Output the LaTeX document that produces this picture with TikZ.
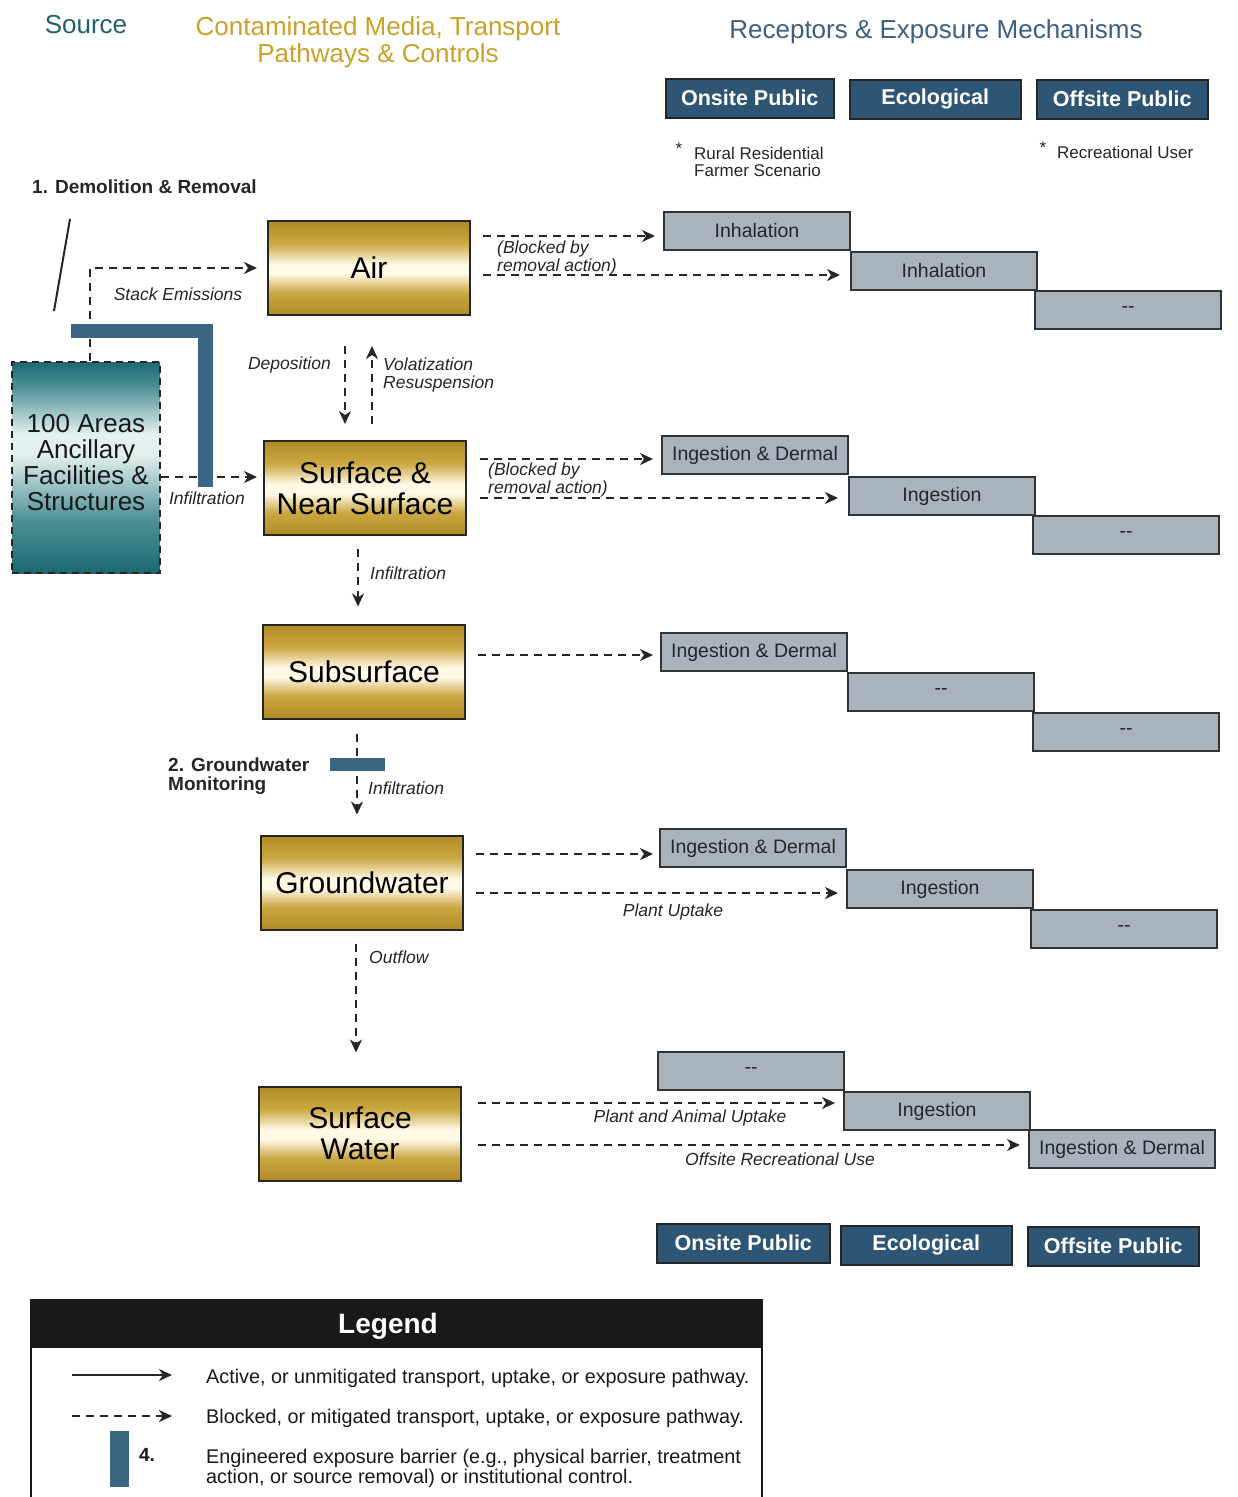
\documentclass[tikz,border=0pt]{standalone}
\usepackage{fontspec}
\setmainfont{Liberation Sans}
\usetikzlibrary{arrows.meta,calc}
\definecolor{hdrblue}{HTML}{2F5574}
\definecolor{barblue}{HTML}{3C6483}
\definecolor{recgray}{HTML}{A9B3BD}
\definecolor{golddk}{HTML}{B08A26}
\definecolor{goldmd}{HTML}{CCA843}
\definecolor{goldlt}{HTML}{FFF9E6}
\definecolor{tealdk}{HTML}{1C6870}
\definecolor{tealmd}{HTML}{4F9298}
\definecolor{teallt}{HTML}{E2F0EE}
\definecolor{srccol}{HTML}{22606A}
\definecolor{medcol}{HTML}{C9A22A}
\definecolor{reccol}{HTML}{3D6080}
\pgfdeclareverticalshading{goldshade}{100bp}{color(0bp)=(golddk); color(25bp)=(golddk); color(37bp)=(goldmd); color(47bp)=(goldlt); color(52bp)=(goldlt); color(63bp)=(goldmd); color(75bp)=(golddk); color(100bp)=(golddk)}
\pgfdeclareverticalshading{tealshade}{100bp}{color(0bp)=(tealdk); color(25bp)=(tealdk); color(38bp)=(tealmd); color(53bp)=(teallt); color(58bp)=(teallt); color(69bp)=(tealmd); color(75bp)=(tealdk); color(100bp)=(tealdk)}
\newcommand{\fs}[1]{\fontsize{#1}{#1}\selectfont}
\tikzset{
  hdr/.style={draw=black!85, line width=1.5pt, fill=hdrblue, text=white, font=\bfseries\fs{21.5}, minimum height=39, inner sep=0pt, anchor=north west},
  rec/.style={draw=black!80, line width=2pt, fill=recgray, text=black!85, font=\fs{19.5}, minimum width=186, minimum height=38, inner sep=0pt, anchor=north west},
  media/.style={draw=black!85, line width=2pt, shading=goldshade, minimum width=202, minimum height=94, font=\fs{30}, align=center, inner sep=0pt},
  blk/.style={line width=2pt, draw=black!85, dash pattern=on 8pt off 6pt, -{Stealth[length=13pt,width=12pt,inset=4pt]}},
  actv/.style={line width=2pt, draw=black!85, -{Stealth[length=13pt,width=12pt,inset=4pt]}},
  lbl/.style={font=\itshape\fs{17.5}, text=black!85, inner sep=0pt, align=left},
  bold/.style={font=\bfseries\fs{19}, text=black!85, inner sep=0pt, align=left},
  note/.style={font=\fs{17}, text=black!85, inner sep=0pt, align=left},
  bar/.style={fill=barblue, draw=none},
  lgtext/.style={font=\fs{19.8}, text=black!90, inner sep=0pt, align=left, anchor=west}
}
\begin{document}
\begin{tikzpicture}[x=1pt,y=-1pt]
\useasboundingbox[fill=white] (0,0) rectangle (1238,1497);

% titles
\node[font=\fs{26}, text=srccol, inner sep=0pt] (tsrc) at (86,25) {Source};
\node[font=\fs{26}, text=medcol, inner sep=0pt, align=center] (tmed) at (378,42) {Contaminated Media, Transport\\[1pt]Pathways \& Controls};
\node[font=\fs{26}, text=reccol, inner sep=0pt] (trec) at (936,32) {Receptors \& Exposure Mechanisms};

% header boxes top
\node[hdr, minimum width=168] (h1) at (665,78) {Onsite Public};
\node[hdr, minimum width=171] (h2) at (849,79) {Ecological};
\node[hdr, minimum width=171] (h3) at (1036,79) {Offsite Public};
% header boxes bottom
\node[hdr, minimum width=173] (b1) at (656,1223) {Onsite Public};
\node[hdr, minimum width=171] (b2) at (840,1225) {Ecological};
\node[hdr, minimum width=171] (b3) at (1027,1226) {Offsite Public};

% notes
\node[note] (st1) at (679,149) {*};
\node[note, anchor=west] (n1) at (694,162) {Rural Residential\\Farmer Scenario};
\node[note] (st2) at (1043,148) {*};
\node[note, anchor=west] (n2) at (1057,152) {Recreational User};

\node[bold, anchor=west] (dem) at (32,187) {1. Demolition \& Removal};
\node[bold, anchor=west] (gwm) at (168,776) {2. Groundwater\\Monitoring};

% source
\node[draw=black!85, line width=2pt, dash pattern=on 7pt off 5pt, shading=tealshade, minimum width=148, minimum height=211, inner sep=0pt] (src) at (86,467.5) {};
\node[font=\fs{26}, align=center, text=black!90, inner sep=0pt] (srct) at ([yshift=5pt]src.center) {100 Areas\\Ancillary\\Facilities \&\\Structures};

% media
\node[media] (air) at (369,268) {Air};
\node[media] (surf) at (365,488) {Surface \&\\[1pt]Near Surface};
\node[media] (subs) at (364,671.5) {Subsurface};
\node[media] (gw) at (362,882.5) {Groundwater};
\node[media] (sw) at (360,1133.5) {Surface\\[1pt]Water};

% receptors
\node[rec] (r11) at (663,211) {Inhalation};
\node[rec] (r12) at (850,251) {Inhalation};
\node[rec] (r13) at (1034,290) {-{}-};
\node[rec] (r21) at (661,435) {Ingestion \& Dermal};
\node[rec] (r22) at (848,476) {Ingestion};
\node[rec] (r23) at (1032,515) {-{}-};
\node[rec] (r31) at (660,632) {Ingestion \& Dermal};
\node[rec] (r32) at (847,672) {-{}-};
\node[rec] (r33) at (1032,712) {-{}-};
\node[rec] (r41) at (659,828) {Ingestion \& Dermal};
\node[rec] (r42) at (846,869) {Ingestion};
\node[rec] (r43) at (1030,909) {-{}-};
\node[rec] (r51) at (657,1051) {-{}-};
\node[rec] (r52) at (843,1091) {Ingestion};
\node[rec] (r53) at (1028,1129) {Ingestion \& Dermal};

% slash
\coordinate (sl1) at (70,219);
\coordinate (sl2) at (54,311);
\draw[line width=2pt, black!85] (sl1) -- (sl2);

% source connectors
\draw[blk, shorten >=10pt] (src.north -| 90,0) |- (air.west);
\draw[blk, shorten >=6pt] (src.east |- 0,477) -- (surf.west |- 0,477);
\node[lbl] (lstack) at (178,294) {Stack Emissions};
\node[lbl] (linf0) at (207,498) {Infiltration};

% vertical connectors
\draw[blk, shorten <=30pt, shorten >=16pt] (air.south -| 345,0) -- (surf.north -| 345,0);
\draw[blk, shorten <=16pt, shorten >=30pt] (surf.north -| 372,0) -- (air.south -| 372,0);
\node[lbl, anchor=east] (ldep) at (331,365) {Deposition};
\node[lbl, anchor=west] (lvol) at (383,375) {Volatization\\Resuspension};
\draw[blk, shorten <=13pt, shorten >=17pt] (surf.south -| 358,0) -- (subs.north -| 358,0);
\node[lbl, anchor=west] (linf1) at (370,573) {Infiltration};
\draw[blk, shorten <=14pt, shorten >=20pt] (subs.south -| 357,0) -- (gw.north -| 357,0);
\node[lbl, anchor=west] (linf2) at (368,788) {Infiltration};
\draw[blk, shorten <=13pt, shorten >=33pt] (gw.south -| 356,0) -- (sw.north -| 356,0);
\node[lbl, anchor=west] (lout) at (369,957) {Outflow};

% horizontal connectors
\draw[blk, shorten <=12pt, shorten >=8pt] (air.east |- 0,236) -- (r11.west |- 0,236);
\draw[blk, shorten <=12pt, shorten >=10pt] (air.east |- 0,275) -- (r12.west |- 0,275);
\node[lbl, anchor=west] (lb1) at (497,258) {(Blocked by\\removal action)};
\draw[blk, shorten <=13pt, shorten >=8pt] (surf.east |- 0,459) -- (r21.west |- 0,459);
\draw[blk, shorten <=13pt, shorten >=10pt] (surf.east |- 0,498) -- (r22.west |- 0,498);
\node[lbl, anchor=west] (lb2) at (488,480) {(Blocked by\\removal action)};
\draw[blk, shorten <=12pt, shorten >=7pt] (subs.east |- 0,655) -- (r31.west |- 0,655);
\draw[blk, shorten <=12pt, shorten >=6pt] (gw.east |- 0,854) -- (r41.west |- 0,854);
\draw[blk, shorten <=12pt, shorten >=8pt] (gw.east |- 0,893) -- (r42.west |- 0,893);
\node[lbl] (lpu) at (673,912) {Plant Uptake};
\draw[blk, shorten <=16pt, shorten >=8pt] (sw.east |- 0,1103) -- (r52.west |- 0,1103);
\node[lbl] (lpau) at (690,1118) {Plant and Animal Uptake};
\draw[blk, shorten <=16pt, shorten >=8pt] (sw.east |- 0,1145) -- (r53.west |- 0,1145);
\node[lbl] (loru) at (780,1159) {Offsite Recreational Use};

% barriers
\fill[bar] (71,324) rectangle (213,338);
\fill[bar] (198,324) rectangle (213,487);
\fill[bar] (330,758) rectangle (385,771);

% legend
\fill[black!90] (31,1300) rectangle (762,1348);
\draw[line width=2pt, black!90] (31,1497) -- (31,1300) -- (762,1300) -- (762,1497);
\node[font=\bfseries\fs{28}, text=white, inner sep=0pt] (lgh) at (388,1326) {Legend};
\coordinate (la1) at (72,1375);
\coordinate (la2) at (172,1375);
\draw[actv] (la1) -- (la2);
\node[lgtext] (lg1) at (206,1378) {Active, or unmitigated transport, uptake, or exposure pathway.};
\coordinate (lb1a) at (72,1416);
\coordinate (lb2a) at (172,1416);
\draw[blk] (lb1a) -- (lb2a);
\node[lgtext] (lg2) at (206,1418) {Blocked, or mitigated transport, uptake, or exposure pathway.};
\fill[bar] (110,1431) rectangle (129,1487);
\node[font=\bfseries\fs{19}, text=black!90, inner sep=0pt] (l4) at (147,1455) {4.};
\node[lgtext] (lg3) at (206,1468) {Engineered exposure barrier (e.g., physical barrier, treatment\\action, or source removal) or institutional control.};
\end{tikzpicture}
\end{document}
